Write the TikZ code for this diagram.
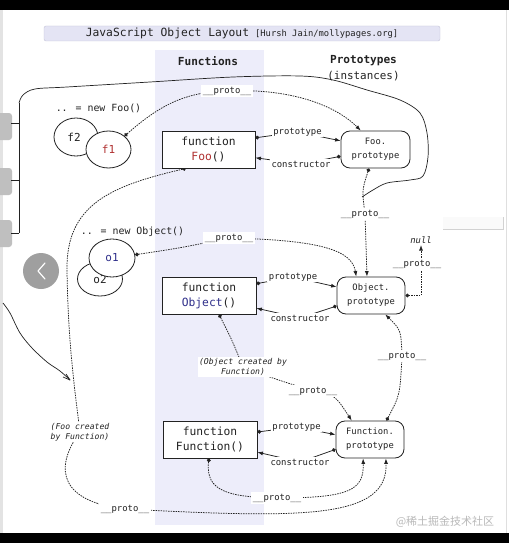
\documentclass[tikz,border=0pt]{standalone}
\usepackage{fontspec}
\setmainfont{DejaVu Sans Mono}
\setmonofont{DejaVu Sans Mono}
\newfontfamily\cjk{Noto Sans CJK SC}
\usetikzlibrary{arrows.meta,shapes.geometric}
\pgfdeclarelayer{back}
\pgfdeclarelayer{lines}
\pgfsetlayers{back,lines,main}
\definecolor{ink}{HTML}{222222}
\definecolor{lav}{HTML}{EDEDFA}
\definecolor{titlefill}{HTML}{E4E4F4}
\definecolor{titleedge}{HTML}{C4C4D8}
\definecolor{foored}{HTML}{B03030}
\definecolor{objblue}{HTML}{2E2E8A}
\newcommand{\fs}[2]{\fontsize{#1}{#2}\selectfont}
\begin{document}
\begin{tikzpicture}[x=1pt,y=-1pt,
  fnbox/.style={draw=ink, line width=0.85, fill=white, minimum width=93, minimum height=37, inner sep=0, align=center, text=ink, font=\fs{11.3}{15}},
  protobox/.style={draw=ink, line width=0.85, fill=white, rounded corners=9, minimum width=68, minimum height=37, inner sep=0, align=center, text=ink, font=\fs{8.8}{14}},
  objell/.style={ellipse, draw=ink, line width=0.8, fill=white, inner sep=0, text=ink, font=\fs{11}{12}},
  lbl/.style={fill=white, inner sep=1.4, text=ink, font=\fs{8.9}{10}},
  note/.style={fill=white, inner sep=1, align=center, text=ink, font=\fs{8.1}{10}\itshape},
  heading/.style={inner sep=0, text=ink, font=\fs{11.1}{14}},
  proto/.style={draw=ink, line width=0.75, dash pattern=on 1.5pt off 1pt, {Circle[length=3.8pt]}-{Latex[length=5.5pt,width=4pt]}},
  rel/.style={draw=ink, line width=0.75, {Circle[length=3.8pt]}-{Latex[length=5.5pt,width=4pt]}},
  hand/.style={draw=ink, line width=0.7, line join=round}]
\useasboundingbox (0,0) rectangle (509,543);
\begin{pgfonlayer}{back}
\fill[white] (0,0) rectangle (509,543);
\fill[black] (0,0) rectangle (509,10);
\fill[black] (0,533) rectangle (509,543);
\fill[gray!22] (0,10) rectangle (3,533);
\draw[gray!25, line width=0.8] (506,10) -- (506,533);
\fill[lav] (155,50) rectangle (264,525);
\fill[gray!50, rounded corners=3] (-6,113) rectangle (12,140);
\fill[gray!50, rounded corners=3] (-6,168) rectangle (12,195);
\fill[gray!50, rounded corners=3] (-6,220) rectangle (12,247);
\fill[gray!4] (443,217) rectangle (503,229);
\draw[gray!35, line width=1] (443,229) -- (503,229) -- (503,217);
\end{pgfonlayer}

% title
\node[draw=titleedge, fill=titlefill, rounded corners=2, minimum width=396, minimum height=15, inner sep=0, text=ink] (title) at (242,33.5)
  {{\fs{11.3}{13}JavaScript Object Layout} {\fs{8.8}{10}[Hursh Jain/mollypages.org]}};

% headings
\node[heading, font=\fs{11.1}{14}\bfseries] (hfun) at (208,61) {Functions};
\node[heading, font=\fs{11.1}{14}\bfseries] (hproto) at (363.5,61) {Prototypes};
\node[heading, font=\fs{10.9}{14}] (hinst) at (363.5,76) {(instances)};

% instances
\node[inner sep=0, text=ink, font=\fs{9.9}{12}] (newfoo) at (98.5,108) {.. = new Foo()};
\node[inner sep=0, text=ink, font=\fs{9.9}{12}] (newobj) at (132.5,232) {.. = new Object()};
\node[objell, minimum width=44, minimum height=38] (f2) at (76,137) {\hspace{-4pt}f2};
\node[objell, minimum width=45, minimum height=37, text=foored] (f1) at (108.5,149.5) {f1};
\node[objell, minimum width=45, minimum height=34] (o2) at (100,279) {\raisebox{-4pt}{o2}\hspace{6pt}};
\node[objell, minimum width=46, minimum height=38, text=objblue] (o1) at (112,258) {o1};

% functions
\node[fnbox] (foo) at (208.5,149.5) {function\\\textcolor{foored}{Foo}()};
\node[fnbox, minimum width=94] (obj) at (209,295.5) {function\\\textcolor{objblue}{Object}()};
\node[fnbox, minimum width=94] (fn) at (210,439.5) {function\\Function()};

% prototypes
\node[protobox, minimum width=69] (fooP) at (375.5,149.5) {Foo.\\prototype};
\node[protobox] (oP) at (371,295.5) {Object.\\prototype};
\node[protobox] (fP) at (370,439.5) {Function.\\prototype};

% labels
\node[lbl] (p1) at (227,91) {\_\_proto\_\_};
\node[lbl] (p3) at (365,214) {\_\_proto\_\_};
\node[lbl] (p4) at (229,238) {\_\_proto\_\_};
\node[lbl] (p5) at (417,264) {\_\_proto\_\_};
\node[lbl, font=\fs{8.9}{10}\itshape] (nul) at (421,240) {null};
\node[lbl] (p6) at (402,356) {\_\_proto\_\_};
\node[note] (ocf) at (243,367) {(Object created by\\Function)};
\node[lbl] (p7) at (313,391) {\_\_proto\_\_};
\node[note] (fcr) at (80,432) {(Foo created\\by Function)};
\node[lbl] (pB1) at (125,509) {\_\_proto\_\_};
\node[lbl] (p8) at (277,498) {\_\_proto\_\_};

\node[lbl] (fooPt) at (297.5,132) {prototype};
\node[lbl] (fooCt) at (301,164) {constructor};
\node[lbl] (objPt) at (293,277) {prototype};
\node[lbl] (objCt) at (300,318) {constructor};
\node[lbl] (fnPt) at (296.5,427) {prototype};
\node[lbl] (fnCt) at (300,462) {constructor};

% grey round button
\node[circle, fill=gray!75, minimum size=36, inner sep=0] (btn) at (41,271) {};
\draw[white, line width=1.2, line cap=round, line join=round] (45,263) -- (38,271) -- (45,279);

% watermark
\node[inner sep=0, text=gray!55, font=\cjk\fs{11}{12}] (wm) at (445,522) {@稀土掘金技术社区};

\begin{pgfonlayer}{lines}
% prototype / constructor
\draw[rel] (foo.14) -- (fooPt.center) -- (fooP.166);
\draw[rel] (fooP.191) -- (fooCt.center) -- (foo.-10);
\draw[rel] (obj.14) -- (objPt.center) -- (oP.166);
\draw[rel] (oP.197) -- (objCt.center) -- (obj.-15);
\draw[rel] (fn.9) -- (fnPt.center) -- (fP.172);
\draw[rel] (fP.196) -- (fnCt.center) -- (fn.-15);

% __proto__ chains
\draw[proto] (f1.40) .. controls (160,105) and (185,92) .. (p1.center) .. controls (290,88) and (335,105) .. (fooP.128);
\draw[proto] (foo.-140) .. controls (110,186) and (66,205) .. (67,270) .. controls (68,340) and (74,385) .. (fcr.center) .. controls (52,470) and (62,502) .. (pB1.center) .. controls (300,518) and (388,520) .. (fP.-50);
\draw[proto] (fooP.-109) .. controls (362,190) .. (p3.center) .. controls (366,245) .. (oP.102);
\draw[proto] (o1.8) .. controls (180,248) .. (p4.center) .. controls (320,240) and (352,250) .. (oP.128);
\draw[proto] (oP.east) -| (nul.south);
\draw[proto] (fP.49) .. controls (400,395) .. (p6.center) .. controls (401,330) .. (oP.-53);
\draw[proto] (obj.-62) .. controls (232,340) .. (ocf.center) .. controls (272,378) .. (p7.center) .. controls (335,395) .. (fP.134);
\draw[proto] (fn.-93) .. controls (205,492) and (230,497) .. (p8.center) .. controls (350,498) and (364,490) .. (fP.-110);

% hand-drawn annotations
\draw[hand] (11,123) -- (19,123) (11,180) -- (19,180) (11,233) -- (19,233) (19,233) -- (19,103);
\draw[hand] plot[smooth, tension=0.55] coordinates {(19,103) (23,95) (35,89) (67,87) (150,82) (233,77) (300,76) (333,80) (367,90) (400,100) (420,113) (427,133) (428,157) (423,176) (410,180) (387,183) (373,190) (362,197)};
\draw[hand] plot[smooth, tension=0.55] coordinates {(3,303) (10,313) (20,333) (32,348) (47,362) (60,371) (70,380)};
\draw[hand] (63,377) -- (70,380) -- (66,374);
\end{pgfonlayer}
\end{tikzpicture}
\end{document}
